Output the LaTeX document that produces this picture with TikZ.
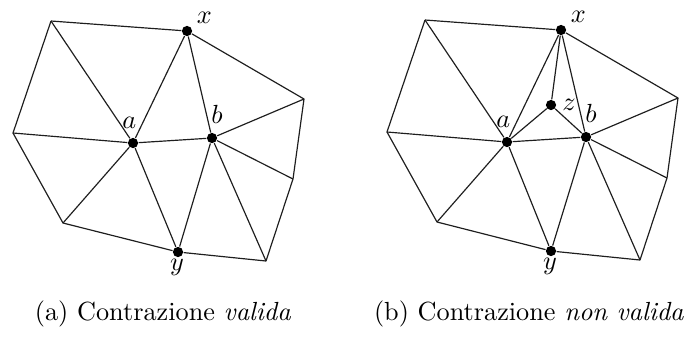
\documentclass[tikz,border=0pt]{standalone}
\usepackage{amsmath}
\usepackage{tikz}
\usetikzlibrary{positioning}
\definecolor{meshDark}{RGB}{30,30,30}
\tikzset{
  meshedge/.style={draw=meshDark, line width=0.45pt, line join=round},
  vertexdot/.style={circle, fill=black, inner sep=0pt, minimum size=3.9pt},
  vlabel/.style={inner sep=1pt, font=\normalsize}
}
\begin{document}
\begin{tikzpicture}[x=0.0134cm, y=-0.0134cm]
        \useasboundingbox (0,0) rectangle (691,340);
        % (a) valid contraction
        \coordinate (atl) at (51,21);
        \coordinate (ar1) at (304,99);
        \coordinate (al) at (13,133);
        \coordinate (ar2) at (293,179);
        \coordinate (abl) at (63,223);
        \coordinate (abr) at (266,261);
        \node[vertexdot] (ax) at (187,31) {};
        \node[vertexdot] (aa) at (133,143) {};
        \node[vertexdot] (ab) at (212,138) {};
        \node[vertexdot] (ay) at (178,252) {};
        \draw[meshedge] (atl) -- (ax) -- (ar1) -- (ar2) -- (abr) -- (ay)
          -- (abl) -- (al) -- (atl);
        \draw[meshedge] (atl) -- (aa) -- (al);
        \draw[meshedge] (abl) -- (aa) -- (ay);
        \draw[meshedge] (ax) -- (aa) -- (ab) -- (ax);
        \draw[meshedge] (ar1) -- (ab) -- (ar2);
        \draw[meshedge] (abr) -- (ab) -- (ay);
        \node[vlabel, above right=0pt and 1pt of ax] {$x$};
        \node[vlabel, above left=3pt and -4pt of aa] {$a$};
        \node[vlabel, above right=3pt and -3pt of ab] {$b$};
        \node[vlabel, below left=0pt and -5pt of ay] {$y$};
        % (b) non valid contraction
        \coordinate (btl) at (425,20);
        \coordinate (br1) at (678,98);
        \coordinate (bl) at (387,132);
        \coordinate (br2) at (667,178);
        \coordinate (bbl) at (437,222);
        \coordinate (bbr) at (640,260);
        \node[vertexdot] (bx) at (561,30) {};
        \node[vertexdot] (ba) at (507,142) {};
        \node[vertexdot] (bz) at (551,105) {};
        \node[vertexdot] (bb) at (586,137) {};
        \node[vertexdot] (by) at (551,251) {};
        \draw[meshedge] (btl) -- (bx) -- (br1) -- (br2) -- (bbr) -- (by)
          -- (bbl) -- (bl) -- (btl);
        \draw[meshedge] (btl) -- (ba) -- (bl);
        \draw[meshedge] (bbl) -- (ba) -- (by);
        \draw[meshedge] (bx) -- (ba) -- (bb) -- (bx);
        \draw[meshedge] (bx) -- (bz);
        \draw[meshedge] (ba) -- (bz) -- (bb);
        \draw[meshedge] (br1) -- (bb) -- (br2);
        \draw[meshedge] (bbr) -- (bb) -- (by);
        \node[vlabel, above right=0pt and 1pt of bx] {$x$};
        \node[vlabel, above left=3pt and -4pt of ba] {$a$};
        \node[vlabel, right=1pt of bz] {$z$};
        \node[vlabel, above right=3pt and -3pt of bb] {$b$};
        \node[vlabel, below left=0pt and -5pt of by] {$y$};
        % captions
        \node (capa) at (163,314) {(a) Contrazione \textit{valida}};
        \node (capb) at (529,314) {(b) Contrazione \textit{non valida}};
      \end{tikzpicture}
\end{document}
